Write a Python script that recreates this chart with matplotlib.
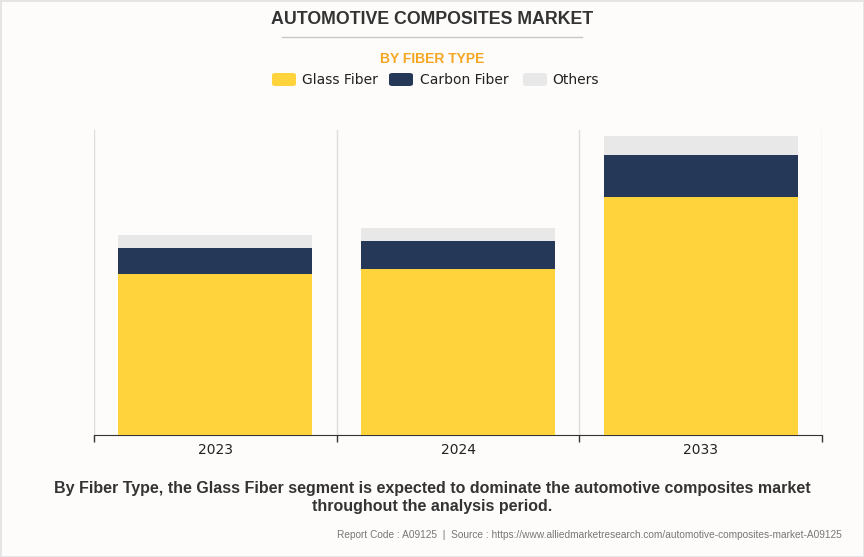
import matplotlib.pyplot as plt
from matplotlib.patches import Rectangle, FancyBboxPatch
from matplotlib.lines import Line2D
import numpy as np

years = ['2023', '2024', '2033']
glass_fiber = [16.1, 16.6, 23.8]
carbon_fiber = [2.6, 2.8, 4.2]
others = [1.3, 1.3, 1.9]

colors = {'Glass Fiber': '#FED33C', 'Carbon Fiber': '#253858', 'Others': '#E8E8E8'}
bg = '#FDFCFB'

fig = plt.figure(figsize=(8.64, 5.57), dpi=100, facecolor=bg)
ax = fig.add_axes([94 / 864, 122 / 557, 728 / 864, 305 / 557])
ax.set_facecolor(bg)

x = np.arange(len(years))
glass = np.array(glass_fiber)
carbon = np.array(carbon_fiber)
ax.bar(x, glass, width=0.8, color=colors['Glass Fiber'], zorder=3)
ax.bar(x, carbon, width=0.8, bottom=glass, color=colors['Carbon Fiber'], zorder=3)
ax.bar(x, others, width=0.8, bottom=glass + carbon, color=colors['Others'], zorder=3)

ax.set_xlim(-0.5, len(years) - 0.5)
ax.set_ylim(0, 30.5)
ax.set_yticks([])
ax.set_xticks(x)
ax.set_xticklabels(years, fontsize=10, color='#222222', family='DejaVu Sans')
ax.set_xticks(np.arange(-0.5, len(years)), minor=True)
ax.tick_params(axis='x', which='major', length=0, pad=6)
ax.tick_params(axis='x', which='minor', length=5, color='#333333', width=1)
ax.grid(True, axis='x', which='minor', color='#DDDDDD', lw=1, zorder=0)
for s in ['top', 'right', 'left']:
    ax.spines[s].set_visible(False)
ax.spines['bottom'].set_color('#333333')

# header
fig.text(432 / 864, 1 - 20 / 557, 'AUTOMOTIVE COMPOSITES MARKET', ha='center', va='center',
         fontsize=12.8, fontweight='bold', color='#333333', family='Liberation Sans')
fig.add_artist(Line2D([282 / 864, 582 / 864], [1 - 37 / 557] * 2, color='#C8C8C8', lw=1))
fig.text(432 / 864, 1 - 59 / 557, 'BY FIBER TYPE', ha='center', va='center',
         fontsize=10, fontweight='bold', color='#F5A623', family='Liberation Sans')

# legend
legend_items = [('Glass Fiber', 272, 302), ('Carbon Fiber', 389, 420), ('Others', 523, 552)]
for name, px, tx in legend_items:
    fig.add_artist(FancyBboxPatch((px / 864, 1 - 86 / 557), 24 / 864, 13 / 557,
                                  boxstyle='round,pad=0,rounding_size=0.004',
                                  facecolor=colors[name], edgecolor='none', transform=fig.transFigure))
    fig.text(tx / 864, 1 - 80.5 / 557, name, ha='left', va='center', fontsize=10,
             color='#222222', family='DejaVu Sans')

# footer
fig.text(432 / 864, 1 - 488 / 557, 'By Fiber Type, the Glass Fiber segment is expected to dominate the automotive composites market',
         ha='center', va='center', fontsize=11.5, fontweight='bold', color='#333333', family='Liberation Sans')
fig.text(432 / 864, 1 - 507 / 557, 'throughout the analysis period.',
         ha='center', va='center', fontsize=11.5, fontweight='bold', color='#333333', family='Liberation Sans')
fig.text(842 / 864, 1 - 535 / 557,
         'Report Code : A09125  |  Source : https://www.alliedmarketresearch.com/automotive-composites-market-A09125',
         ha='right', va='center', fontsize=7.3, color='#777777', family=['Liberation Sans Narrow', 'Liberation Sans'])

fig.add_artist(Rectangle((0, 0), 1, 1, transform=fig.transFigure, fill=False, edgecolor='#E4E4E4', lw=2))

fig.savefig('out.png', dpi=100, facecolor=bg)
